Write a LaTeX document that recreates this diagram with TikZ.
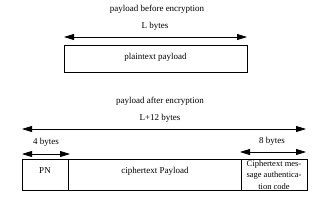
\documentclass[tikz,border=0pt]{standalone}
\usepackage{fontspec}
\setmainfont{Liberation Serif}
\usetikzlibrary{arrows.meta}
\begin{document}
\begin{tikzpicture}[x=1pt,y=-1pt,
  lbl/.style={font=\fontsize{9}{10}\selectfont, inner sep=0pt},
  dim/.style={line width=0.8pt, {Triangle[length=10pt,width=6pt]}-{Triangle[length=10pt,width=6pt]}}]
\useasboundingbox (0,0) rectangle (321,202);
% top
\node[lbl] (t1) at (157,9) {payload before encryption};
\node[lbl] (l1) at (155,26) {L bytes};
\coordinate (a1) at (64,37);
\coordinate (b1) at (247,37);
\draw[dim] (a1) -- (b1);
\draw[line width=0.6pt] (64,45) rectangle (247,72);
\node[lbl] (pp) at (155.5,57) {plaintext payload};
% bottom
\node[lbl] (t2) at (160,101) {payload after encryption};
\node[lbl] (l2) at (160,118) {L+12 bytes};
\coordinate (a2) at (22,129);
\coordinate (b2) at (306,129);
\draw[dim] (a2) -- (b2);
\node[lbl] (l3) at (46,142) {4 bytes};
\coordinate (a3) at (22,154);
\coordinate (b3) at (70,154);
\draw[dim] (a3) -- (b3);
\node[lbl] (l4) at (272,141) {8 bytes};
\coordinate (a4) at (240,152);
\coordinate (b4) at (306,152);
\draw[dim] (a4) -- (b4);
\draw[line width=0.6pt] (22,159) rectangle (307,190);
\draw[line width=0.6pt] (68,159) -- (68,190);
\draw[line width=0.6pt] (241,159) -- (241,190);
\node[lbl] (pn) at (45,171) {PN};
\node[lbl] (cp) at (155,171) {ciphertext Payload};
\node[lbl, align=center, font=\fontsize{8.5}{11.5}\selectfont] (mac) at (274,175) {Ciphertext mes-\\sage authentica-\\tion code};
\end{tikzpicture}
\end{document}
